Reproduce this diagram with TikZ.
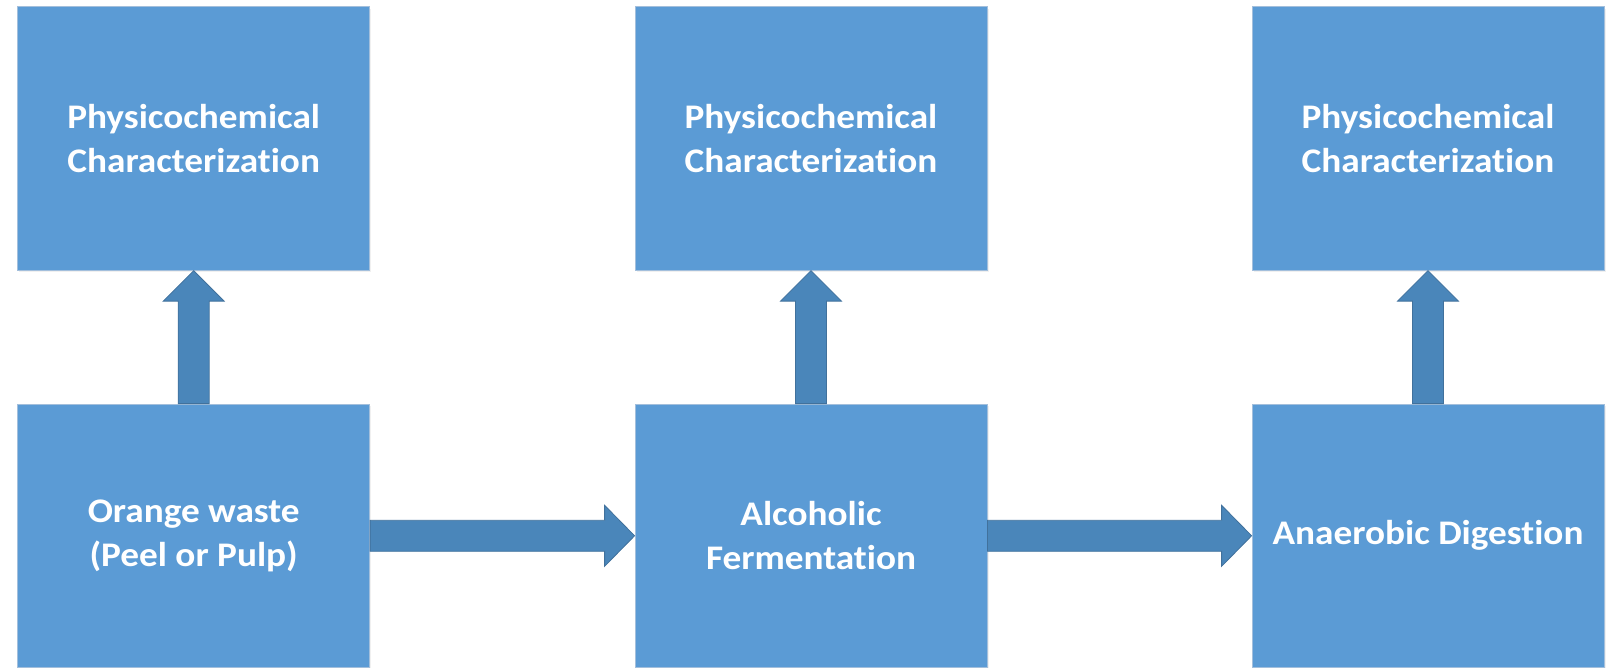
\documentclass[tikz,border=0pt]{standalone}
\usepackage{fontspec}
\setmainfont{Carlito}[Ligatures=NoCommon, FakeStretch=1.08]
\usetikzlibrary{calc,shadows}
\definecolor{boxfill}{HTML}{5B9BD5}
\definecolor{boxline}{HTML}{A3BFDC}
\definecolor{arrfill}{HTML}{4A86BA}
\definecolor{arrline}{HTML}{41719C}
\begin{document}
\begin{tikzpicture}[x=1pt,y=1pt,
  box/.style={rectangle, fill=boxfill, draw=boxline, line width=0.8pt,
    minimum width=352pt, minimum height=263.5pt, inner sep=0pt,
    text=white, align=center, font=\bfseries\fontsize{34.5}{44}\selectfont,
    drop shadow={opacity=0.12, shadow xshift=1.5pt, shadow yshift=-2pt}},
  fatarrow/.style={fill=arrfill, draw=arrline, line width=0.8pt, line join=miter}]
\useasboundingbox (0,0) rectangle (1617,668);
\node[box] (t1) at (193.7,529.5) {Physicochemical\\Characterization};
\node[box] (t2) at (811,529.5) {Physicochemical\\Characterization};
\node[box] (t3) at (1428,529.5) {Physicochemical\\Characterization};
\node[box] (b1) at (193.7,132.2) {Orange waste\\(Peel or Pulp)};
\node[box] (b2) at (811,132.2) {Alcoholic\\Fermentation};
\node[box] (b3) at (1428,132.2) {Anaerobic Digestion};
% horizontal arrows
\foreach \a/\b in {b1/b2,b2/b3}{
  \draw[fatarrow] ($(\a.east)+(0,15.5)$) -- ($(\b.west)+(-30,15.5)$) -- ($(\b.west)+(-30,30.5)$)
    -- (\b.west) -- ($(\b.west)+(-30,-30.5)$) -- ($(\b.west)+(-30,-15.5)$)
    -- ($(\a.east)+(0,-15.5)$) -- cycle;
}
% vertical arrows
\foreach \a/\b in {b1/t1,b2/t2,b3/t3}{
  \draw[fatarrow] ($(\a.north)+(-15.5,0)$) -- ($(\b.south)+(-15.5,-30.5)$) -- ($(\b.south)+(-30.5,-30.5)$)
    -- (\b.south) -- ($(\b.south)+(30.5,-30.5)$) -- ($(\b.south)+(15.5,-30.5)$)
    -- ($(\a.north)+(15.5,0)$) -- cycle;
}
\end{tikzpicture}
\end{document}
